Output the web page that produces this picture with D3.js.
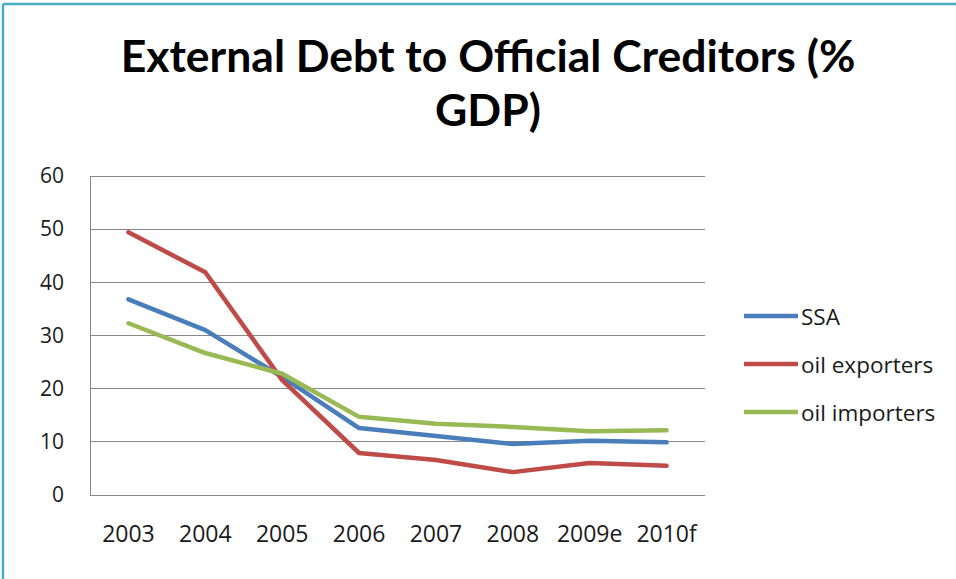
<!DOCTYPE html>
<html><head><meta charset="utf-8">
<script src="https://cdn.jsdelivr.net/npm/d3@7"></script>
<style>
html,body{margin:0;padding:0;background:#fff;}
svg{display:block;}
text{font-family:"Open Sans",Lato,sans-serif;}
</style></head>
<body>
<svg id="c" width="956" height="579"></svg>
<script>
const categories = ["2003","2004","2005","2006","2007","2008","2009e","2010f"];
const ssa = [36.8, 31.0, 22.2, 12.6, 11.1, 9.6, 10.2, 9.9];
const oilExporters = [49.4, 41.9, 21.6, 7.9, 6.6, 4.3, 6.0, 5.5];
const oilImporters = [32.3, 26.7, 22.8, 14.7, 13.4, 12.8, 12.0, 12.2];
const seriesNames = ["SSA","oil exporters","oil importers"];
const seriesColors = ["#4a7ebb","#be4b48","#98b954"];
const yTicks = [0,10,20,30,40,50,60];
const titleLines = ["External Debt to Official Creditors (%","GDP)"];

const series = [ssa, oilExporters, oilImporters];
const svg = d3.select("#c");

// border
svg.append("line").attr("x1",3).attr("x2",956).attr("y1",4).attr("y2",4).attr("stroke","#4bacc6").attr("stroke-width",2.5);
svg.append("line").attr("x1",3).attr("x2",3).attr("y1",4).attr("y2",579).attr("stroke","#4bacc6").attr("stroke-width",2.5);

const m = {left:90, right:705, top:176, bottom:495};
const x = d3.scaleBand().domain(categories).range([m.left, m.right]);
const y = d3.scaleLinear().domain([0,60]).range([m.bottom, m.top]);

// grid
svg.append("g").selectAll("line").data(yTicks).join("line")
  .attr("x1", m.left).attr("x2", m.right)
  .attr("y1", d=>y(d)).attr("y2", d=>y(d))
  .attr("stroke","#888").attr("stroke-width",1).attr("shape-rendering","crispEdges");

// y axis
const yAxis = svg.append("g").attr("transform",`translate(${m.left},0)`)
  .call(d3.axisLeft(y).tickValues(yTicks).tickSize(0).tickPadding(26));
yAxis.select(".domain").attr("stroke","#888").attr("shape-rendering","crispEdges");
yAxis.selectAll("text").attr("font-size",21).attr("fill","#1a1a1a").style("font-family","'Open Sans',sans-serif");

// x axis
const xAxis = svg.append("g").attr("transform",`translate(0,${m.bottom})`)
  .call(d3.axisBottom(x).tickSize(0).tickPadding(31));
xAxis.select(".domain").remove();
xAxis.selectAll("text").attr("font-size",23).attr("fill","#1a1a1a").style("font-family","'Open Sans',sans-serif");

// lines
const line = d3.line().x((d,i)=>x(categories[i])+x.bandwidth()/2).y(d=>y(d));
series.forEach((s,k)=>{
  svg.append("path").datum(s).attr("d",line).attr("fill","none")
    .attr("stroke",seriesColors[k]).attr("stroke-width",4.5)
    .attr("stroke-linejoin","round").attr("stroke-linecap","round");
});

// legend
const leg = svg.append("g");
seriesNames.forEach((n,k)=>{
  const ly = 316 + k*48;
  leg.append("line").attr("x1",744).attr("x2",798).attr("y1",ly).attr("y2",ly)
    .attr("stroke",seriesColors[k]).attr("stroke-width",4.5);
  leg.append("text").attr("x",801).attr("y",ly+9).attr("font-size",22.5).attr("fill","#1a1a1a").text(n);
});

// title
titleLines.forEach((t,i)=>{
  svg.append("text").attr("x",488).attr("y",72+i*54).attr("text-anchor","middle")
    .attr("font-size",44.5).attr("font-weight","bold").attr("fill","#000")
    .style("font-family","Lato,sans-serif").text(t);
});
</script>
</body></html>
